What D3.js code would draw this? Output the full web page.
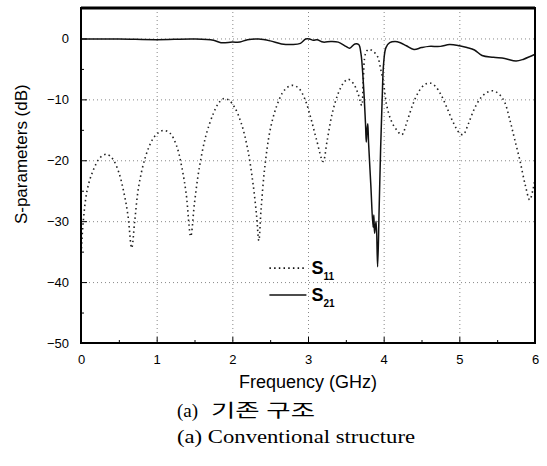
<!DOCTYPE html>
<html>
<head>
<meta charset="utf-8">
<script src="https://cdn.jsdelivr.net/npm/d3@7"></script>
<style>
  body { margin: 0; background: #fff; }
  .axis text { font-family: "Liberation Sans", Arial, sans-serif; font-size: 13px; fill: #000; }
  .axis path, .axis line { stroke: #000; }
  .grid line { stroke: #888; stroke-dasharray: 1,3; }
  .grid path { display: none; }
</style>
</head>
<body>
<svg id="chart"></svg>
<script>
// S11 (dotted) : frequency in GHz, value in dB
const s11Freq = [0, 0.03, 0.08, 0.15, 0.25, 0.34, 0.42, 0.5, 0.57, 0.62, 0.67, 0.71, 0.76, 0.85, 0.95, 1.03, 1.1, 1.18, 1.26, 1.33, 1.39, 1.45, 1.5, 1.56, 1.65, 1.75, 1.82, 1.88, 1.95, 2.03, 2.12, 2.2, 2.27, 2.32, 2.35, 2.38, 2.43, 2.5, 2.58, 2.66, 2.73, 2.8, 2.88, 2.96, 3.04, 3.11, 3.2, 3.25, 3.32, 3.4, 3.47, 3.53, 3.6, 3.66, 3.71, 3.73, 3.76, 3.8, 3.86, 3.92, 3.96, 4.0, 4.04, 4.1, 4.17, 4.24, 4.3, 4.38, 4.46, 4.54, 4.61, 4.68, 4.76, 4.84, 4.92, 5.0, 5.05, 5.12, 5.2, 5.28, 5.36, 5.45, 5.53, 5.6, 5.67, 5.73, 5.8, 5.87, 5.93, 5.97, 6.0];
const s11Val = [-36, -30, -25, -22, -19.6, -19, -19.8, -22, -25.5, -29, -34.4, -30, -24.5, -19.5, -16.5, -15.4, -15.1, -15.6, -17.5, -21, -25.5, -32.5, -27, -21.5, -16, -12.3, -10.6, -9.9, -10.1, -11.3, -14, -18, -23.5, -29, -33.2, -28, -21, -15, -11.3, -9, -8, -7.7, -8.2, -10, -13.2, -16.5, -20.2, -17, -12.3, -9, -7.3, -6.7, -7.4, -9, -11, -7, -2.5, -1.8, -2.1, -3, -5, -7.5, -11, -13.5, -15, -15.8, -14, -11, -8.8, -7.6, -7.3, -7.8, -9.3, -11.5, -13.8, -15.5, -15.8, -14, -11.5, -9.8, -8.9, -8.6, -9.2, -10.5, -13.5, -16.5, -20, -24, -26.5, -25, -23];

// S21 (solid)
const s21Freq = [0, 0.5, 1.0, 1.5, 1.75, 1.85, 2.0, 2.1, 2.2, 2.35, 2.5, 2.65, 2.8, 2.9, 2.97, 3.02, 3.07, 3.12, 3.2, 3.3, 3.4, 3.5, 3.55, 3.62, 3.67, 3.7, 3.73, 3.76, 3.77, 3.78, 3.79, 3.8, 3.83, 3.86, 3.87, 3.88, 3.9, 3.92, 3.94, 3.96, 3.98, 4.0, 4.03, 4.08, 4.15, 4.22, 4.3, 4.4, 4.5, 4.6, 4.75, 4.87, 5.0, 5.1, 5.2, 5.3, 5.45, 5.6, 5.75, 5.85, 6.0];
const s21Val = [-0.1, -0.1, -0.2, -0.1, -0.3, -0.7, -0.6, -0.6, -0.2, -0.1, -0.4, -0.9, -1.0, -0.8, -0.1, -0.1, -0.3, -0.2, -0.6, -0.5, -0.6, -1.3, -1.6, -0.9, -1.0, -2.5, -7, -14, -17, -15, -14, -17, -24, -31, -29, -32, -30, -37.5, -28, -18, -10, -4, -1.5, -0.7, -0.5, -0.7, -1.2, -1.8, -1.5, -1.3, -1.3, -1.0, -1.2, -1.5, -1.9, -2.8, -3.1, -3.3, -3.7, -3.4, -2.6];

const xTicks = [0, 1, 2, 3, 4, 5, 6];
const yTicks = [0, -10, -20, -30, -40, -50];
const seriesNames = ["11", "21"];

const width = 547, height = 466;
const margin = { top: 8, right: 12, bottom: 123, left: 81 };
const w = width - margin.left - margin.right;
const h = height - margin.top - margin.bottom;

const svg = d3.select("#chart").attr("width", width).attr("height", height);
const g = svg.append("g").attr("transform", `translate(${margin.left},${margin.top})`);

const x = d3.scaleLinear().domain([0, 6]).range([0, w]);
const y = d3.scaleLinear().domain([-50, 5]).range([h, 0]);

// grid
g.append("g").attr("class", "grid")
  .call(d3.axisBottom(x).tickValues([1, 2, 3, 4, 5]).tickSize(h).tickFormat(""));
g.append("g").attr("class", "grid")
  .call(d3.axisLeft(y).tickValues([-40, -30, -20, -10, 0]).tickSize(-w).tickFormat(""));

// axes with inward ticks
const xAxis = g.append("g").attr("class", "axis")
  .attr("transform", `translate(0,${h})`)
  .call(d3.axisBottom(x).tickValues(xTicks).tickSize(-6).tickPadding(12).tickFormat(d3.format("d")));
xAxis.select(".domain").remove();
g.append("g").attr("transform", `translate(0,${h})`)
  .call(d3.axisBottom(x).tickValues(d3.range(0.5, 6, 1)).tickSize(-3).tickFormat(""))
  .call(s => s.select(".domain").remove());

const yAxis = g.append("g").attr("class", "axis")
  .call(d3.axisLeft(y).tickValues(yTicks).tickSize(-6).tickPadding(12).tickFormat(d3.format("d")));
yAxis.select(".domain").remove();
g.append("g")
  .call(d3.axisLeft(y).tickValues(d3.range(-45, 5, 10)).tickSize(-3).tickFormat(""))
  .call(s => s.select(".domain").remove());

// lines
const s11 = s11Freq.map((f, i) => [f, s11Val[i]]);
const s21 = s21Freq.map((f, i) => [f, s21Val[i]]);
const line = d3.line().x(d => x(d[0])).y(d => y(d[1])).curve(d3.curveCatmullRom.alpha(0.5));

g.append("path").datum(s11)
  .attr("fill", "none").attr("stroke", "#222").attr("stroke-width", 1.6)
  .attr("stroke-dasharray", "1.5,3.2").attr("d", line);
g.append("path").datum(s21)
  .attr("fill", "none").attr("stroke", "#111").attr("stroke-width", 1.5)
  .attr("d", line);

// frame
g.append("rect").attr("width", w).attr("height", h)
  .attr("fill", "none").attr("stroke", "#000").attr("stroke-width", 2);
g.append("line").attr("x1", 0).attr("x2", w).attr("y1", 0).attr("y2", 0)
  .attr("stroke", "#000").attr("stroke-width", 3);

// legend
const legend = g.append("g").attr("transform", `translate(${x(2.49)},${y(-37.7)})`);
seriesNames.forEach((s, i) => {
  const row = legend.append("g").attr("transform", `translate(0,${i * 27})`);
  row.append("line").attr("x1", 0).attr("x2", 37).attr("y1", 0).attr("y2", 0)
    .attr("stroke", "#111").attr("stroke-width", i === 0 ? 1.6 : 1.5)
    .attr("stroke-dasharray", i === 0 ? "1.5,3.2" : null);
  const t = row.append("text").attr("x", 42).attr("y", 6)
    .style("font-family", "Liberation Sans, Arial, sans-serif").style("font-weight", "bold")
    .style("font-size", "18px");
  t.append("tspan").text("S");
  t.append("tspan").attr("dy", 6).style("font-size", "10px").text(s);
});

// axis titles
svg.append("text")
  .attr("x", margin.left + w / 2).attr("y", 388)
  .attr("text-anchor", "middle")
  .style("font-family", "Liberation Sans, Arial, sans-serif").style("font-size", "18px")
  .text("Frequency (GHz)");
svg.append("text")
  .attr("transform", `translate(27,${margin.top + y(-19)}) rotate(-90)`)
  .attr("text-anchor", "middle")
  .style("font-family", "Liberation Sans, Arial, sans-serif").style("font-size", "17px")
  .text("S-parameters (dB)");

// captions
const cap = svg.append("text").attr("y", 417)
  .style("font-family", "Liberation Serif, 'Noto Sans CJK KR', serif").style("font-size", "19px");
cap.append("tspan").attr("x", 177).text("(a)");
cap.append("tspan").attr("x", 211)
  .attr("textLength", 104).attr("lengthAdjust", "spacingAndGlyphs")
  .style("font-size", "18px")
  .text("기존 구조");
svg.append("text").attr("x", 177).attr("y", 443)
  .attr("textLength", 238).attr("lengthAdjust", "spacingAndGlyphs")
  .style("font-family", "Liberation Serif, serif").style("font-size", "19px")
  .text("(a) Conventional structure");
</script>
</body>
</html>
